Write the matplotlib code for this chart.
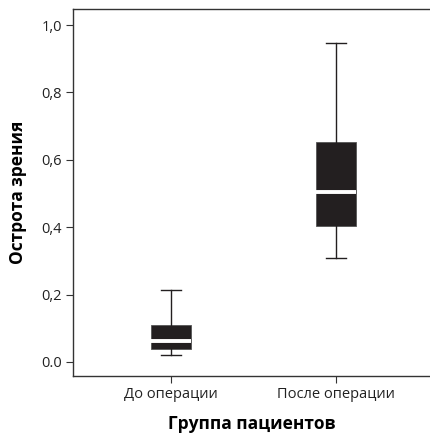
import matplotlib
matplotlib.use("Agg")
import matplotlib.pyplot as plt

plt.rcParams["font.family"] = ["Open Sans", "DejaVu Sans"]

# Boxplot summary
groups = ["До операции", "После операции"]
whisker_low = [0.020, 0.309]
q1 = [0.039, 0.404]
median = [0.062, 0.504]
q3 = [0.110, 0.653]
whisker_high = [0.214, 0.947]

yticks = [0.0, 0.2, 0.4, 0.6, 0.8, 1.0]
ytick_labels = ["0.0", "0,2", "0,4", "0,6", "0,8", "1,0"]

BOX_COLOR = "#231f20"
LINE_COLOR = "#231f20"

stats = []
for i, name in enumerate(groups):
    stats.append({
        "label": name,
        "whislo": whisker_low[i],
        "q1": q1[i],
        "med": median[i],
        "q3": q3[i],
        "whishi": whisker_high[i],
        "fliers": [],
    })

fig = plt.figure(figsize=(4.30, 4.34), dpi=100)
ax = fig.add_axes([0.170, 0.1336, 0.830, 0.845])

positions = [1, 2]
ax.bxp(
    stats,
    positions=positions,
    widths=0.24,
    patch_artist=True,
    showfliers=False,
    boxprops=dict(facecolor=BOX_COLOR, edgecolor="#555555", linewidth=0.6),
    medianprops=dict(color="white", linewidth=2.8, solid_capstyle="butt"),
    whiskerprops=dict(color=LINE_COLOR, linewidth=1.0),
    capprops=dict(color=LINE_COLOR, linewidth=1.0),
    capwidths=0.12,
)

ax.set_xlim(0.406, 2.570)
ax.set_ylim(-0.042, 1.047)
ax.set_yticks(yticks)
ax.set_yticklabels(ytick_labels)
ax.set_xticks(positions)
ax.set_xticklabels(groups)

ax.spines["right"].set_visible(False)
for side in ["left", "top", "bottom"]:
    ax.spines[side].set_color("#333333")
    ax.spines[side].set_linewidth(1.0)

ax.tick_params(axis="both", direction="out", length=5, width=0.8,
               color="#333333", labelsize=10.5, labelcolor="#222222", pad=3)

ax.set_ylabel("Острота зрения", fontsize=12.5, fontweight="bold", labelpad=10)
ax.set_xlabel("Группа пациентов", fontsize=12.5, fontweight="bold", labelpad=9)

fig.savefig("out.png", dpi=100)
